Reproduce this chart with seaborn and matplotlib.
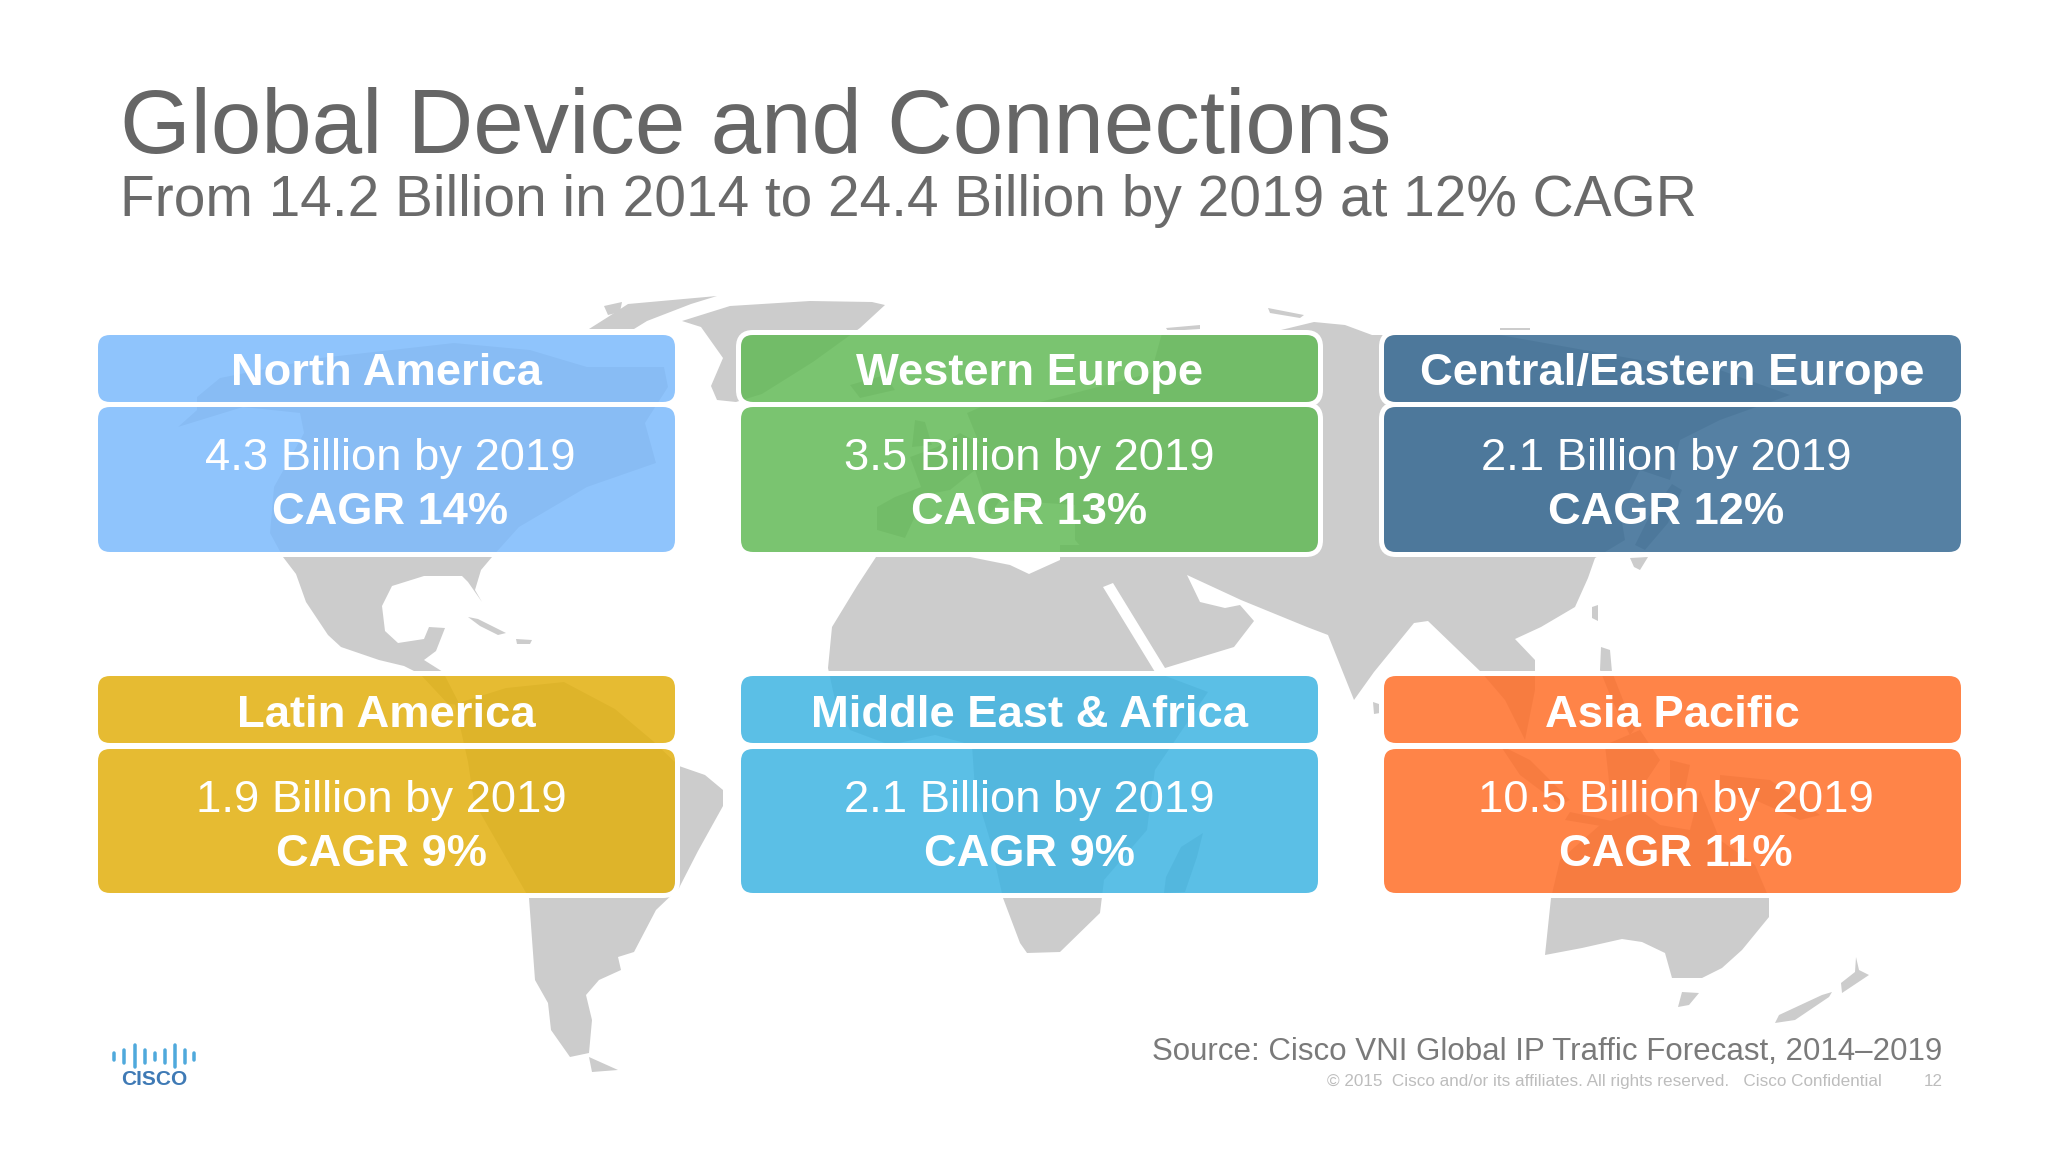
#%%
import matplotlib
matplotlib.use('Agg')
import matplotlib.pyplot as plt
import seaborn as sns
from matplotlib.patches import FancyBboxPatch

#%%
title = 'Global Device and Connections'
subtitle = 'From 14.2 Billion in 2014 to 24.4 Billion by 2019 at 12% CAGR'
source = 'Source: Cisco VNI Global IP Traffic Forecast, 2014–2019'
footer = '© 2015  Cisco and/or its affiliates. All rights reserved.   Cisco Confidential'
page = '12'

regions = ['North America', 'Western Europe', 'Central/Eastern Europe',
           'Latin America', 'Middle East & Africa', 'Asia Pacific']
billions_2019 = ['4.3', '3.5', '2.1', '1.9', '2.1', '10.5']
cagr = [14, 13, 12, 9, 9, 11]
region_colors = ['#7CBAFC', '#63BA57', '#376A93', '#E2B00E', '#3EB4E2', '#FF6E28']

# small nudges of the body text, the slide has them off centre
body_nudge = [4, 0, -6, -5, 0, 3]

# world map background, outlines in pixels
north_america = [(283, 557), (270, 533), (274, 487), (304, 433), (300, 413), (243, 407),
                 (178, 427), (197, 410), (197, 397), (220, 378), (320, 358), (454, 343),
                 (530, 350), (587, 367), (664, 367), (668, 387), (645, 423), (656, 463),
                 (587, 487), (519, 527), (492, 557), (481, 570), (475, 590), (482, 602),
                 (468, 582), (462, 576), (424, 576), (392, 586), (382, 606), (385, 631),
                 (398, 643), (424, 639), (429, 627), (445, 628), (436, 651), (424, 660),
                 (443, 672), (460, 705), (448, 704), (420, 674), (404, 666), (379, 660),
                 (341, 647), (328, 635), (306, 602), (296, 574)]
south_america = [(455, 704), (506, 688), (564, 682), (615, 709), (653, 741), (679, 766),
                 (705, 775), (723, 790), (723, 806), (698, 851), (679, 888), (656, 910),
                 (634, 952), (618, 957), (621, 970), (599, 980), (586, 995), (592, 1020),
                 (589, 1053), (570, 1057), (551, 1030), (548, 1003), (535, 980), (529, 898),
                 (474, 802), (468, 762)]
tierra_del_fuego = [(589, 1057), (618, 1070), (592, 1072)]
cuba = [(468, 617), (478, 619), (506, 633), (498, 635), (480, 626)]
hispaniola = [(516, 639), (532, 640), (530, 644), (517, 644)]
greenland = [(682, 321), (730, 306), (810, 301), (872, 302), (885, 305), (860, 328),
             (813, 362), (762, 394), (736, 402), (717, 400), (711, 386), (723, 358), (701, 327)]
arctic_islands = [(589, 329), (608, 317), (628, 304), (717, 296), (691, 304), (647, 321), (634, 329)]
arctic_islet_a = [(604, 306), (622, 302), (620, 312), (608, 315)]
arctic_islet_b = [(1166, 328), (1200, 325), (1200, 329), (1168, 331)]
arctic_islet_c = [(1268, 308), (1304, 315), (1300, 318), (1270, 313)]
arctic_islet_d = [(1500, 328), (1530, 328), (1530, 331), (1500, 331)]
iceland = [(850, 385), (885, 375), (895, 390), (860, 398)]
britain = [(915, 420), (925, 422), (932, 445), (912, 447)]
eurasia = [(877, 507), (895, 497), (921, 487), (910, 457), (937, 447), (960, 433), (979, 443),
           (967, 413), (990, 403), (1036, 403), (1113, 383), (1151, 373), (1162, 333),
           (1227, 332), (1281, 330), (1314, 322), (1345, 325), (1372, 335), (1500, 335),
           (1640, 360), (1720, 370), (1790, 395), (1720, 420), (1680, 440), (1670, 480),
           (1640, 470), (1620, 510), (1625, 540), (1595, 558), (1588, 578), (1575, 607),
           (1541, 627), (1515, 639), (1535, 660), (1535, 690), (1525, 740), (1505, 700),
           (1481, 672), (1455, 647), (1428, 621), (1414, 623), (1374, 672), (1354, 700),
           (1328, 635), (1307, 627), (1241, 600), (1187, 575), (1200, 602), (1225, 608),
           (1240, 605), (1254, 621), (1234, 647), (1165, 668), (1113, 583), (1075, 540),
           (1075, 505), (1000, 500), (990, 515), (975, 470), (950, 490), (925, 495),
           (905, 538), (877, 530)]
africa = [(876, 557), (857, 586), (832, 627), (828, 668), (835, 700), (850, 730), (890, 745),
          (935, 735), (972, 745), (975, 790), (990, 840), (1003, 898), (1020, 943), (1027, 953),
          (1060, 952), (1100, 913), (1104, 880), (1147, 830), (1155, 770), (1208, 692),
          (1155, 672), (1103, 587), (1113, 583), (1113, 545), (1060, 545), (1060, 560),
          (1029, 574), (1010, 565), (970, 557)]
madagascar = [(1203, 833), (1197, 857), (1185, 892), (1164, 893), (1166, 877), (1181, 847)]
australia = [(1551, 898), (1545, 955), (1582, 948), (1622, 939), (1642, 942), (1665, 953),
             (1672, 978), (1702, 978), (1722, 968), (1742, 950), (1769, 917), (1769, 898),
             (1755, 865), (1720, 840), (1700, 790), (1690, 830), (1660, 825), (1640, 810),
             (1600, 825), (1560, 860)]
tasmania = [(1682, 992), (1699, 993), (1689, 1005), (1678, 1007)]
nz_south = [(1832, 992), (1829, 997), (1795, 1020), (1775, 1023), (1779, 1015), (1822, 995)]
nz_north = [(1856, 957), (1859, 970), (1869, 975), (1842, 993), (1841, 983), (1855, 972)]
japan = [(1645, 550), (1668, 523), (1682, 490), (1672, 484), (1650, 515), (1635, 545)]
kyushu = [(1630, 558), (1648, 557), (1640, 570), (1634, 567)]
taiwan = [(1592, 607), (1598, 605), (1598, 621), (1592, 618)]
sri_lanka = [(1373, 702), (1379, 704), (1380, 713), (1374, 714)]
philippines = [(1601, 647), (1610, 650), (1612, 672), (1625, 705), (1640, 722), (1630, 735),
               (1612, 700), (1600, 670)]
sumatra = [(1500, 745), (1530, 760), (1570, 800), (1560, 805), (1520, 775)]
java = [(1570, 812), (1630, 825), (1625, 830), (1565, 820)]
borneo = [(1605, 745), (1640, 730), (1660, 760), (1640, 790), (1610, 790)]
sulawesi = [(1670, 760), (1690, 765), (1685, 790), (1670, 795)]
new_guinea = [(1720, 775), (1770, 780), (1820, 815), (1800, 820), (1755, 800), (1720, 790)]

land = [north_america, south_america, tierra_del_fuego, cuba, hispaniola, greenland,
        arctic_islands, arctic_islet_a, arctic_islet_b, arctic_islet_c, arctic_islet_d,
        iceland, britain, eurasia, africa, madagascar, australia, tasmania, nz_south, nz_north,
        japan, kyushu, taiwan, sri_lanka, philippines, sumatra, java, borneo, sulawesi, new_guinea]

logo_bars = [(114, 7), (124, 13), (135, 22), (145, 13), (155, 7), (165, 13), (175, 22), (185, 13), (194, 7)]

#%%
sns.set_theme(style='white')
plt.rcParams['font.family'] = ['Liberation Sans', 'DejaVu Sans']
palette = sns.color_palette(region_colors)

DPI = 100
px = 72 / DPI
fig, ax = plt.subplots(figsize=(20.48, 11.52), dpi=DPI)
ax.set_position([0, 0, 1, 1])
ax.set_xlim(0, 2048)
ax.set_ylim(1152, 0)
ax.set_xticks([])
ax.set_yticks([])
sns.despine(ax=ax, left=True, bottom=True)

#%% map
for shape in land:
    xs, ys = zip(*shape)
    ax.fill(xs, ys, color='#CCCCCC', lw=0, zorder=1)

#%% cards
col_x = [(98, 675), (741, 1318), (1384, 1961)]
row_y = [(335, 402, 407, 552), (676, 743, 749, 893)]
head_base = [385, 727]


def card(x0, x1, y0, y1, color):
    halo = 2.5
    ax.add_patch(FancyBboxPatch((x0 - halo, y0 - halo), x1 - x0 + 2 * halo, y1 - y0 + 2 * halo,
                                boxstyle=f'round,pad=0,rounding_size={12 + halo}',
                                fc='none', ec='white', lw=5 * px, zorder=2))
    ax.add_patch(FancyBboxPatch((x0, y0), x1 - x0, y1 - y0,
                                boxstyle='round,pad=0,rounding_size=12',
                                fc=color, ec='none', alpha=0.85, zorder=3))


for i, name in enumerate(regions):
    x0, x1 = col_x[i % 3]
    head0, head1, body0, body1 = row_y[i // 3]
    card(x0, x1, head0, head1, palette[i])
    card(x0, x1, body0, body1, palette[i])
    xc = (x0 + x1) / 2
    ax.text(xc, head_base[i // 3], name, color='white', fontsize=32.7, fontweight='bold',
            ha='center', va='baseline', zorder=4)
    ax.text(xc + body_nudge[i], body0 + 63, f'{billions_2019[i]} Billion by 2019', color='white',
            fontsize=32.7, ha='center', va='baseline', zorder=4)
    ax.text(xc + body_nudge[i], body0 + 117, f'CAGR {cagr[i]}%', color='white',
            fontsize=32.6, fontweight='bold', ha='center', va='baseline', zorder=4)

#%% texts
ax.text(120, 153, title, color='#666666', fontsize=65.35, ha='left', va='baseline')
ax.text(120, 216, subtitle, color='#6A6A6A', fontsize=40.95, ha='left', va='baseline')
ax.text(1942, 1060, source, color='#7A7A7A', fontsize=22.5, ha='right', va='baseline')
ax.text(1882, 1086, footer, color='#BDBDBD', fontsize=12.35, ha='right', va='baseline')
ax.text(1943, 1086, page, color='#BDBDBD', fontsize=12.35, ha='right', va='baseline')

#%% logo
for x, h in logo_bars:
    ax.vlines(x, 1056 - h / 2, 1056 + h / 2, color='#4FA9DC', lw=3.5 * px, capstyle='round')
ax.text(154.5, 1085, 'CISCO', color='#3F7AB5', fontsize=15, fontweight='bold',
        ha='center', va='baseline')

fig.savefig('out.png', dpi=DPI, facecolor='white')
